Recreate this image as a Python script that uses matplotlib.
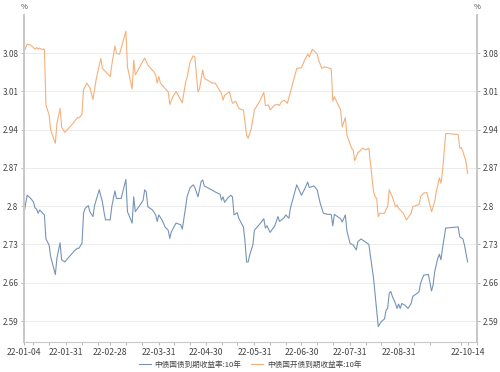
import numpy as np
import matplotlib
matplotlib.use("Agg")
import matplotlib.pyplot as plt
import matplotlib.dates as mdates

plt.rcParams['font.family'] = ['Noto Sans CJK SC', 'DejaVu Sans']

start = np.datetime64('2022-01-04')

# days since 2022-01-04, values in %
gov_days = [0, 2, 4, 6, 7, 8, 9, 10, 12, 13, 14, 16, 17, 20, 21, 23, 24, 26, 29, 32,
            34, 35, 37, 38, 39, 41, 42, 44, 45, 48, 50, 51, 52, 55, 56, 58, 59, 62, 65, 66,
            69, 70, 71, 74, 76, 77, 78, 79, 82, 84, 85, 86, 88, 90, 92, 93, 94, 97, 100, 101,
            103, 104, 106, 108, 109, 111, 113, 114, 115, 119, 122, 125, 126, 127, 128, 130, 132, 133, 134, 136,
            137, 139, 140, 141, 142, 143, 144, 146, 147, 150, 153, 154, 155, 157, 160, 162, 163, 166, 167, 169,
            170, 174, 177, 179, 181, 182, 184, 185, 187, 189, 191, 194, 196, 197, 198, 202, 203, 205, 206, 208,
            210, 212, 213, 215, 217, 219, 220, 223, 226, 228, 230, 231, 232, 233, 234, 235, 237, 238, 239, 240,
            241, 243, 245, 247, 248, 251, 252, 253, 255, 258, 260, 261, 262, 264, 265, 266, 267, 269, 277, 278,
            280, 281, 283]
gov_yield = [2.787, 2.820, 2.815, 2.808, 2.797, 2.795, 2.787, 2.793, 2.787, 2.784, 2.740, 2.729, 2.708, 2.675, 2.705, 2.733, 2.702, 2.698, 2.708, 2.718,
             2.723, 2.723, 2.732, 2.787, 2.796, 2.801, 2.790, 2.781, 2.801, 2.830, 2.808, 2.790, 2.775, 2.775, 2.799, 2.828, 2.814, 2.814, 2.849, 2.790,
             2.769, 2.817, 2.790, 2.802, 2.811, 2.830, 2.826, 2.799, 2.793, 2.784, 2.772, 2.784, 2.775, 2.762, 2.756, 2.741, 2.753, 2.769, 2.766, 2.758,
             2.796, 2.817, 2.834, 2.839, 2.834, 2.817, 2.845, 2.848, 2.837, 2.831, 2.826, 2.822, 2.811, 2.817, 2.807, 2.815, 2.820, 2.817, 2.784, 2.788,
             2.778, 2.767, 2.762, 2.735, 2.698, 2.698, 2.711, 2.729, 2.756, 2.766, 2.777, 2.760, 2.764, 2.752, 2.764, 2.781, 2.772, 2.779, 2.784, 2.778,
             2.797, 2.839, 2.820, 2.831, 2.844, 2.834, 2.836, 2.837, 2.830, 2.805, 2.787, 2.785, 2.785, 2.764, 2.785, 2.777, 2.771, 2.784, 2.755, 2.732,
             2.729, 2.720, 2.735, 2.740, 2.736, 2.732, 2.730, 2.668, 2.580, 2.589, 2.594, 2.610, 2.613, 2.641, 2.644, 2.635, 2.622, 2.613, 2.621, 2.613,
             2.622, 2.619, 2.613, 2.622, 2.635, 2.641, 2.644, 2.659, 2.674, 2.675, 2.645, 2.656, 2.680, 2.705, 2.712, 2.702, 2.723, 2.760, 2.762, 2.744,
             2.740, 2.729, 2.698]

cdb_days = [0, 2, 4, 6, 7, 8, 9, 10, 11, 13, 14, 16, 17, 20, 21, 23, 24, 26, 29, 32,
            34, 35, 37, 38, 39, 40, 42, 44, 46, 49, 50, 51, 53, 55, 56, 58, 59, 61, 62, 65,
            66, 69, 70, 71, 77, 79, 83, 84, 85, 86, 87, 92, 93, 95, 97, 101, 103, 104, 106, 108,
            109, 111, 112, 114, 115, 120, 122, 126, 127, 128, 131, 133, 135, 137, 139, 140, 142, 143, 145, 147,
            150, 153, 154, 156, 157, 160, 162, 163, 164, 166, 168, 170, 174, 177, 179, 181, 182, 184, 187, 188,
            190, 192, 196, 197, 198, 202, 203, 205, 206, 209, 210, 211, 213, 214, 216, 218, 220, 223, 224, 225,
            226, 227, 230, 231, 232, 233, 235, 237, 238, 239, 240, 242, 244, 247, 248, 251, 252, 253, 255, 257,
            259, 260, 262, 263, 265, 266, 267, 269, 277, 278, 279, 280, 282, 283]
cdb_yield = [3.082, 3.096, 3.095, 3.090, 3.087, 3.090, 3.087, 3.089, 3.087, 3.087, 2.985, 2.967, 2.939, 2.915, 2.951, 2.979, 2.945, 2.935, 2.944, 2.954,
             2.962, 2.961, 2.968, 3.014, 3.018, 3.025, 3.017, 2.995, 3.031, 3.070, 3.052, 3.049, 3.043, 3.037, 3.058, 3.093, 3.079, 3.078, 3.089, 3.120,
             3.055, 3.014, 3.067, 3.040, 3.071, 3.058, 3.045, 3.040, 3.025, 3.037, 3.025, 3.009, 2.986, 3.000, 3.010, 2.989, 3.025, 3.035, 3.064, 3.075,
             3.073, 3.009, 3.015, 3.049, 3.034, 3.025, 3.025, 3.006, 2.994, 3.003, 3.009, 2.988, 2.992, 2.979, 2.976, 2.976, 2.930, 2.924, 2.942, 2.976,
             2.990, 3.008, 2.984, 2.985, 2.976, 2.985, 2.986, 2.984, 2.990, 2.994, 2.988, 3.009, 3.052, 3.053, 3.067, 3.078, 3.073, 3.087, 3.078, 3.067,
             3.052, 3.055, 3.051, 2.992, 3.000, 2.976, 2.945, 2.962, 2.930, 2.906, 2.903, 2.883, 2.898, 2.900, 2.906, 2.903, 2.906, 2.826, 2.817, 2.814,
             2.781, 2.787, 2.787, 2.794, 2.799, 2.830, 2.817, 2.799, 2.802, 2.796, 2.793, 2.787, 2.775, 2.787, 2.799, 2.802, 2.803, 2.817, 2.824, 2.825,
             2.802, 2.790, 2.808, 2.826, 2.852, 2.842, 2.863, 2.933, 2.931, 2.906, 2.907, 2.900, 2.881, 2.860]

tick_dates = ['2022-01-04', '2022-01-31', '2022-02-28', '2022-03-31', '2022-04-30',
              '2022-05-31', '2022-06-30', '2022-07-31', '2022-08-31', '2022-10-14']
y_ticks = [2.59, 2.66, 2.73, 2.8, 2.87, 2.94, 3.01, 3.08]
y_labels = ['2.59', '2.66', '2.73', '2.8', '2.87', '2.94', '3.01', '3.08']

gov_x = start + np.array(gov_days).astype('timedelta64[D]')
cdb_x = start + np.array(cdb_days).astype('timedelta64[D]')

blue = '#7594b8'
orange = '#f5b07a'
axis_col = '#c8c8c8'
txt_col = '#444444'

fig = plt.figure(figsize=(5, 3.72), dpi=100)
ax = fig.add_axes([0.048, 0.0806, 0.906, 0.879])

ax.plot(gov_x, gov_yield, color=blue, linewidth=0.8, label='中债国债到期收益率:10年')
ax.plot(cdb_x, cdb_yield, color=orange, linewidth=0.8, label='中债国开债到期收益率:10年')

ax.set_xlim(np.datetime64('2022-01-04'), np.datetime64('2022-10-14'))
ax.set_ylim(2.5516, 3.1495)
ax.set_yticks(y_ticks)
ax.set_yticklabels(y_labels)
ax.grid(axis='y', color='#ececec', linewidth=0.7)
ax.set_axisbelow(True)

ax.set_xticks([np.datetime64(d) for d in tick_dates])
ax.set_xticklabels([d[2:] for d in tick_dates])
minor = []
for m in range(1, 11):
    for dd in (10, 20):
        minor.append(np.datetime64('2022-%02d-%02d' % (m, dd)))
ax.set_xticks(minor, minor=True)

ax.spines['top'].set_visible(False)
for s in ['left', 'right']:
    ax.spines[s].set_color(axis_col)
    ax.spines[s].set_linewidth(1.4)
ax.spines['bottom'].set_color(axis_col)
ax.spines['bottom'].set_linewidth(0.8)

ax.tick_params(axis='x', which='both', length=2.5, width=0.6, color='#aaaaaa',
               labelsize=6.2, labelcolor=txt_col, pad=2)
ax.tick_params(axis='y', length=2.5, width=0.6, color='#aaaaaa', labelsize=5.8,
               labelcolor=txt_col, pad=1.5)

ax2 = ax.twinx()
ax2.set_ylim(ax.get_ylim())
ax2.set_yticks(y_ticks)
ax2.set_yticklabels(y_labels)
for s in ['top', 'left', 'bottom']:
    ax2.spines[s].set_visible(False)
ax2.spines['right'].set_color(axis_col)
ax2.spines['right'].set_linewidth(1.4)
ax2.tick_params(axis='y', length=2.5, width=0.6, color='#aaaaaa', labelsize=5.8,
                labelcolor=txt_col, pad=1.5)

fig.text(0.048, 0.982, '%', ha='center', va='center', fontsize=5.5, color=txt_col)
fig.text(0.954, 0.982, '%', ha='center', va='center', fontsize=5.5, color=txt_col)

h, l = ax.get_legend_handles_labels()
fig.legend(h, l, loc='lower center', bbox_to_anchor=(0.5, -0.01), ncol=2, frameon=False,
           fontsize=5.5, handlelength=1.6, handletextpad=0.5, columnspacing=1.2,
           labelcolor=txt_col)

fig.savefig('out.png', dpi=100)
